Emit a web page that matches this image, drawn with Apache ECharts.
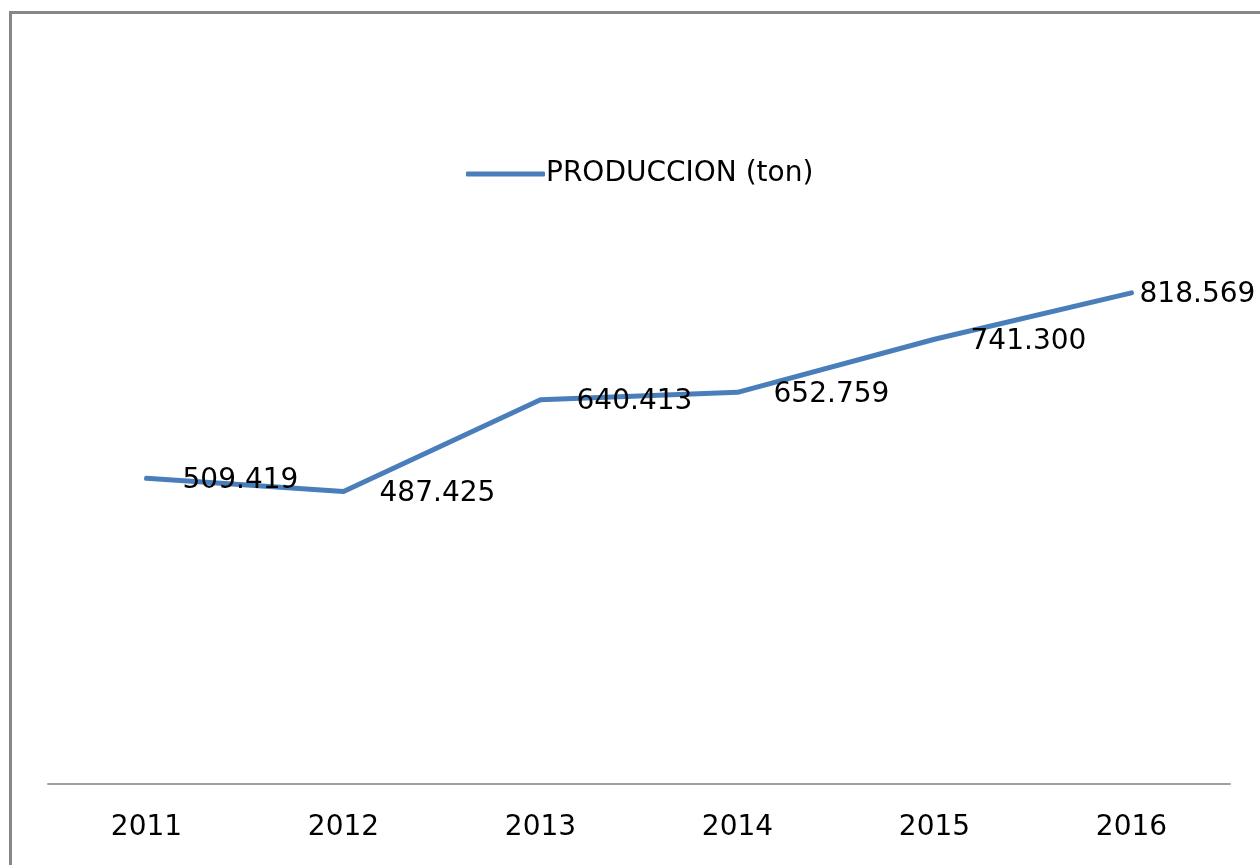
<!DOCTYPE html>
<html>
	<head>
		<meta charset="utf8"></meta>
		<script src="https://cdnjs.cloudflare.com/ajax/libs/echarts/6.0.0/echarts.min.js"></script>
		<title>PRODUCCION (ton)</title>
	</head>
	<style>
		* {
			margin: 0;
			padding: 0;
			box-sizing: border-box;
		}
		body {
			background: #fff;
		}
	</style>
	<body>
		<div id="chart" style="width:1260px;height:865px;"></div>
	</body>
	<script type="text/javascript">
		// datos
		var years = ['2011', '2012', '2013', '2014', '2015', '2016']
		var produccion = [509.419, 487.425, 640.413, 652.759, 741.300, 818.569]
		var seriesName = 'PRODUCCION (ton)'

		var font = 'DejaVu Sans'

		// last label sits closer to its point (as in the original)
		var lineData = produccion.map(function(v, i) {
			if (i === produccion.length - 1) {
				return { value: v, label: { distance: 8 } }
			}
			return v
		})

		var option = {
			backgroundColor: '#fff',
			animation: false,
			graphic: [{
				type: 'rect',
				shape: { x: 10.5, y: 12.5, width: 1400, height: 1000 },
				style: { fill: 'none', stroke: '#878787', lineWidth: 3 },
				silent: true
			}],
			legend: {
				top: 155,
				left: 461,
				itemWidth: 79,
				itemHeight: 5,
				itemGap: 0,
				icon: 'roundRect',
				textStyle: {
					fontFamily: font,
					fontSize: 28,
					color: '#000',
					padding: [0, 0, 0, -4]
				},
				data: [seriesName]
			},
			grid: {
				left: 48,
				right: 30,
				top: 184,
				bottom: 81,
				containLabel: false
			},
			xAxis: {
				type: 'category',
				boundaryGap: true,
				data: years,
				axisLine: {
					show: true,
					lineStyle: { color: '#a0a0a0', width: 2 }
				},
				axisTick: { show: false },
				axisLabel: {
					fontFamily: font,
					fontSize: 28,
					color: '#000',
					margin: 30
				}
			},
			yAxis: {
				type: 'value',
				min: 0,
				max: 1000,
				show: false,
				splitLine: { show: false }
			},
			series: [{
				name: seriesName,
				type: 'line',
				data: lineData,
				symbol: 'circle',
				symbolSize: 0.1,
				showSymbol: true,
				lineStyle: { color: '#4A7EBB', width: 5, cap: 'round', join: 'round' },
				itemStyle: { color: '#4A7EBB' },
				label: {
					show: true,
					position: 'right',
					distance: 36,
					offset: [0, 2],
					fontFamily: font,
					fontSize: 28,
					color: '#000',
					formatter: function(p) {
						return p.value.toFixed(3)
					}
				}
			}]
		}
		var chart = echarts.init(document.getElementById('chart'))
		chart.setOption(option)
	</script>
</html>
